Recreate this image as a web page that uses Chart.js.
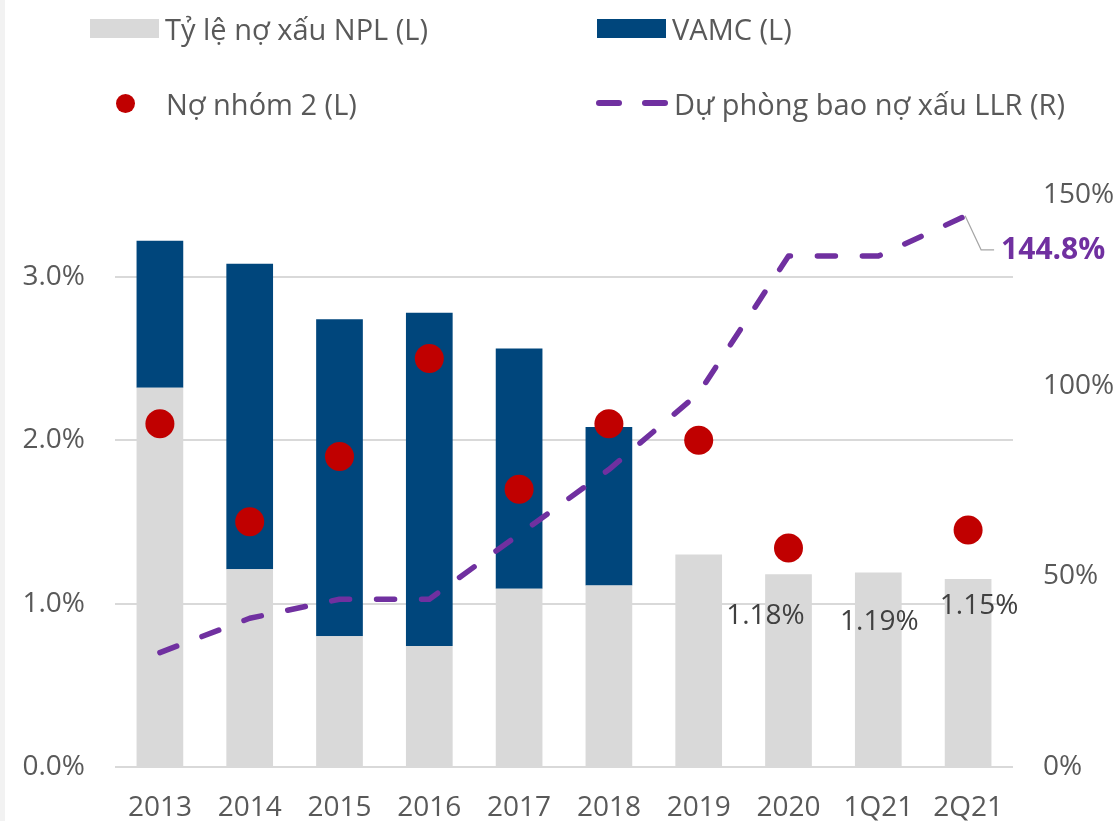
<!DOCTYPE html>
<html>
<head>
<meta charset="utf-8">
<script src="https://cdn.jsdelivr.net/npm/chart.js@4.4.1/dist/chart.umd.min.js"></script>
<style>
  html, body { margin:0; padding:0; background:#fff; }
  body { width:1117px; height:821px; position:relative; overflow:hidden; font-family:'Open Sans', sans-serif; }
  #strip { position:absolute; left:0; top:0; width:5px; height:821px; background:#f2f2f2; }
  #chartBox { position:absolute; left:0; top:0; width:1117px; height:821px; }
  .lg { position:absolute; display:flex; align-items:center; font-size:29px; color:#595959; white-space:nowrap; }
  .sw-rect { width:69px; height:19px; margin-right:6px; }
  .sw-dot { width:19px; height:19px; border-radius:50%; margin:0 31px 0 26px; }
  .sw-dash { display:flex; gap:20px; margin-right:6px; }
  .sw-dash span { display:block; width:26px; height:6px; border-radius:3px; }
</style>
</head>
<body>
<div id="strip"></div>
<div id="chartBox"><canvas id="nplCanvas" width="1117" height="821"></canvas></div>
<div id="legend"></div>
<script>
(function(){
'use strict';

// du lieu doc tu hinh
const labels       = ['2013','2014','2015','2016','2017','2018','2019','2020','1Q21','2Q21'];
const nplValues    = [2.32, 1.21, 0.80, 0.74, 1.09, 1.11, 1.30, 1.18, 1.19, 1.15];
const vamcValues   = [0.90, 1.87, 1.94, 2.04, 1.47, 0.97, null, null, null, null];
const group2Values = [2.10, 1.50, 1.90, 2.50, 1.70, 2.10, 2.00, 1.34, null, 1.45];
const llrValues    = [30, 39, 44, 44, 61, 78, 98, 134, 134, 144.8];
const leftTicks    = [0, 1, 2, 3];
const rightTicks   = [0, 50, 100, 150];
const seriesNames  = ['Tỷ lệ nợ xấu NPL (L)', 'VAMC (L)', 'Nợ nhóm 2 (L)', 'Dự phòng bao nợ xấu LLR (R)'];
const nplLabelIdx  = [7, 8, 9];

const C_NPL = '#d9d9d9', C_VAMC = '#00467c', C_G2 = '#c00000', C_LLR = '#7030a0';
const FONT = "'Open Sans', sans-serif";

// legend html (2 x 2)
const lg = document.getElementById('legend');
const items = [
  { left:90,  top:28,  sw:`<div class="sw-rect" style="background:${C_NPL}"></div>` },
  { left:597, top:28,  sw:`<div class="sw-rect" style="background:${C_VAMC}"></div>` },
  { left:90,  top:103, sw:`<div class="sw-dot" style="background:${C_G2}"></div>` },
  { left:596, top:103, sw:`<div class="sw-dash"><span style="background:${C_LLR}"></span><span style="background:${C_LLR}"></span></div>` }
];
lg.innerHTML = items.map((it,i)=>
  `<div class="lg" style="left:${it.left}px;top:${it.top-21}px;height:42px">${it.sw}<span>${seriesNames[i]}</span></div>`
).join('');

// nhan so lieu + chu thich 144.8%
const labelPlugin = {
  id:'nplLabels',
  afterDatasetsDraw(chart){
    const ctx = chart.ctx;
    const nudges = { 7:{dx:-23, dy:42}, 8:{dx:1, dy:50}, 9:{dx:11, dy:27} };
    const barMeta = chart.getDatasetMeta(0);
    ctx.save();
    ctx.font = '28px ' + FONT;
    ctx.fillStyle = '#404040';
    ctx.textAlign = 'center';
    ctx.textBaseline = 'middle';
    nplLabelIdx.forEach(i=>{
      const el = barMeta.data[i];
      const n = nudges[i];
      ctx.fillText(nplValues[i].toFixed(2) + '%', el.x + n.dx, el.y + n.dy);
    });

    const lineMeta = chart.getDatasetMeta(3);
    const last = llrValues.length - 1;
    const p = lineMeta.data[last];
    ctx.strokeStyle = '#a6a6a6';
    ctx.lineWidth = 1.2;
    ctx.beginPath();
    ctx.moveTo(p.x - 3, p.y + 1);
    ctx.lineTo(p.x + 13, p.y + 35);
    ctx.lineTo(p.x + 26, p.y + 35);
    ctx.stroke();
    ctx.font = 'bold 30px ' + FONT;
    ctx.fillStyle = C_LLR;
    ctx.textAlign = 'left';
    ctx.fillText(llrValues[last].toFixed(1) + '%', p.x + 33, p.y + 36);
    ctx.restore();
  }
};

const ctx = document.getElementById('nplCanvas').getContext('2d');
new Chart(ctx, {
  type:'bar',
  data:{
    labels: labels,
    datasets:[
      { label:seriesNames[0], data:nplValues, backgroundColor:C_NPL, stack:'npl', yAxisID:'y', order:3,
        barPercentage:0.52, categoryPercentage:1 },
      { label:seriesNames[1], data:vamcValues, backgroundColor:C_VAMC, stack:'npl', yAxisID:'y', order:3,
        barPercentage:0.52, categoryPercentage:1 },
      { type:'line', label:seriesNames[2], data:group2Values, stack:'g2', yAxisID:'y', order:0,
        showLine:false, pointRadius:14.5, pointBackgroundColor:C_G2, pointBorderWidth:0, pointHoverRadius:14.5 },
      { type:'line', label:seriesNames[3], data:llrValues, yAxisID:'y1', order:1,
        borderColor:C_LLR, borderWidth:5.5, borderDash:[18,27], borderCapStyle:'round', borderJoinStyle:'round',
        pointRadius:0, tension:0, fill:false }
    ]
  },
  options:{
    responsive:false,
    animation:false,
    devicePixelRatio:1,
    layout:{ padding:{ top:195, left:0, right:0, bottom:0 } },
    plugins:{ legend:{display:false}, tooltip:{enabled:false} },
    scales:{
      x:{
        stacked:true,
        grid:{ display:false },
        border:{ display:false },
        ticks:{ color:'#595959', font:{ family:FONT, size:28 }, padding:16, maxRotation:0 },
        afterFit(s){ s.height = 54; }
      },
      y:{
        position:'left', stacked:true, min:0, max:3.5,
        afterBuildTicks(s){ s.ticks = leftTicks.map(v=>({value:v})); },
        grid:{ color:'#d9d9d9', lineWidth:2, drawTicks:false },
        border:{ display:false },
        ticks:{ color:'#595959', font:{ family:FONT, size:28 }, padding:30,
                callback:v=> v.toFixed(1) + '%' },
        afterFit(s){ s.width = 115; }
      },
      y1:{
        position:'right', min:0, max:150,
        afterBuildTicks(s){ s.ticks = rightTicks.map(v=>({value:v})); },
        grid:{ display:false },
        border:{ display:false },
        ticks:{ color:'#595959', font:{ family:FONT, size:28 }, padding:22,
                callback:v=> v + '%' },
        afterFit(s){ s.width = 104; }
      }
    }
  },
  plugins:[labelPlugin]
});

})();
</script>
</body>
</html>
